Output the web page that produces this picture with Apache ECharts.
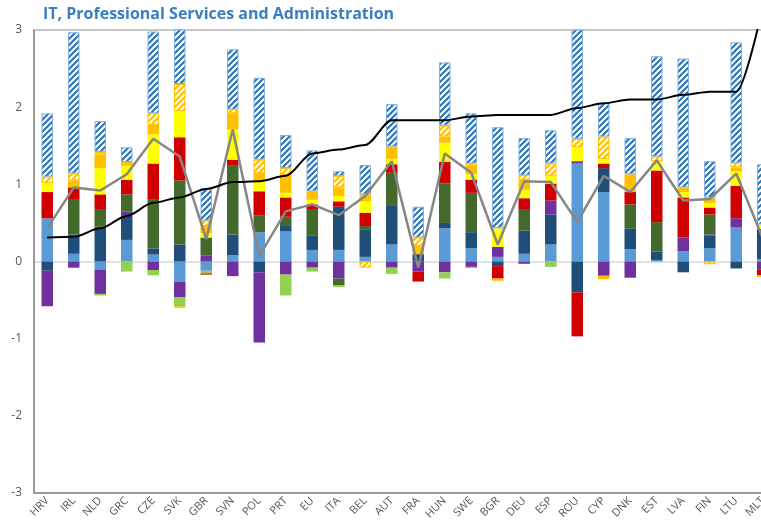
<!DOCTYPE html>
<html><head><meta charset="utf-8">
<script src="https://cdn.jsdelivr.net/npm/echarts@6/dist/echarts.min.js"></script>
<style>html,body{margin:0;padding:0;background:#fff;overflow:hidden}#c{width:761px;height:531px}</style>
</head><body><div id="c"></div>
<script>
const categories = ['HRV','IRL','NLD','GRC','CZE','SVK','GBR','SVN','POL','PRT','EU','ITA','BEL','AUT','FRA','HUN','SWE','BGR','DEU','ESP','ROU','CYP','DNK','EST','LVA','FIN','LTU','MLT'];
const yTicks = [-3,-2,-1,0,1,2,3];
// segment values (stacked), per category
const lightBlue   = [0.56,0.10,-0.11,0.28,0.09,-0.26,-0.12,0.08,0.38,0.39,0.15,0.15,0.06,0.22,0,0.43,0.17,0.06,0.10,0.22,1.27,0.90,0.16,0.02,0.13,0.17,0.44,0.03];
const darkBlue    = [-0.12,0.25,0.45,0.32,0.08,0.22,0,0.27,-0.14,0.07,0.19,0.56,0.35,0.51,0.095,0.07,0.21,-0.06,0.30,0.39,-0.40,0.31,0.27,0.11,-0.14,0.17,-0.09,0.39];
const purple      = [-0.46,-0.08,-0.31,0.05,-0.11,-0.20,0.08,-0.19,-0.91,-0.17,-0.08,-0.22,0,-0.08,-0.13,-0.14,-0.07,0.13,-0.03,0.18,0.03,-0.185,-0.21,0,0.18,0.01,0.12,-0.10];
const darkGreen   = [0,0.46,0.23,0.22,0.63,0.83,0.23,0.90,0.22,0.12,0.34,-0.09,0.05,0.42,0,0.51,0.51,0,0.28,0,0,0,0.31,0.38,0,0.26,0,0];
const lightGreen  = [0,0,-0.02,-0.13,-0.07,-0.12,-0.035,0,0,-0.27,-0.05,-0.02,0,-0.08,0,-0.08,-0.015,0,0,-0.07,0,0,0,0,0,0,0,0];
const red         = [0.34,0.15,0.19,0.19,0.47,0.56,-0.015,0.07,0.31,0.25,0.06,0.07,0.17,0.11,-0.13,0.28,0.17,-0.16,0.14,0.22,-0.57,0.06,0.16,0.67,0.52,0.09,0.42,-0.08];
const yellow      = [0.12,0,0.34,0.18,0.38,0.34,0.06,0.39,0.13,0.06,0.06,0.07,0.15,0.07,0,0.25,0.07,0.24,0.11,0.10,0.18,0.06,0,0.12,0.07,0.06,0.19,0.06];
const orange      = [0,0.09,0.18,0.05,0.12,-0.02,0.09,0.21,0.11,0.23,0.11,0.11,0.09,0.16,0.105,0.08,0.11,-0.03,0.13,0,0,-0.045,0.23,0,0.06,0.07,0.05,-0.02];
const orangeHatch = [0.08,0.09,0.03,0,0.15,0.35,0.07,0.05,0.17,0.09,0,0.15,-0.08,0,0.11,0.14,0.03,0,0.06,0.16,0.11,0.29,0,0.06,0,-0.035,0.06,0];
const blueHatch   = [0.82,1.83,0.40,0.19,1.06,0.80,0.42,0.78,1.06,0.43,0.53,0.06,0.38,0.55,0.40,0.82,0.65,1.31,0.48,0.43,1.50,0.43,0.47,1.30,1.67,0.47,1.56,0.78];
// lines
const grayLine  = [0.43,0.96,0.92,1.13,1.59,1.36,0.29,1.71,0.07,0.65,0.74,0.60,0.85,1.30,-0.08,1.40,1.15,0.22,1.04,1.03,0.51,1.11,0.90,1.31,0.79,0.81,1.14,0.30];
const blackLine = [0.31,0.32,0.43,0.59,0.76,0.83,0.94,1.03,1.04,1.11,1.40,1.45,1.51,1.83,1.83,1.83,1.88,1.90,1.90,1.90,1.99,2.05,2.10,2.10,2.16,2.20,2.20,3.30];

function hatch(color){
  const s = 6;
  const c = document.createElement('canvas'); c.width = s; c.height = s;
  const g = c.getContext('2d');
  g.fillStyle = '#ffffff'; g.fillRect(0,0,s,s);
  g.strokeStyle = color; g.lineWidth = 2.2;
  g.beginPath();
  g.moveTo(-1,s+1); g.lineTo(s+1,-1);
  g.moveTo(-2,2); g.lineTo(2,-2);
  g.moveTo(s-2,s+2); g.lineTo(s+2,s-2);
  g.stroke();
  return {image:c, repeat:'repeat'};
}
const segs = [
  [lightBlue,'#5B9BD5',null],
  [darkBlue,'#1F4E79',null],
  [purple,'#7030A0',null],
  [darkGreen,'#44692C',null],
  [lightGreen,'#92D050',null],
  [red,'#D00000',null],
  [yellow,'#FFFF00',null],
  [orange,'#FFC000',null],
  [orangeHatch,hatch('#FFC000'),'#FFC000'],
  [blueHatch,hatch('#2E75B6'),'#7FB0E0']
];
const series = segs.map(([arr,col,border]) => ({
  type:'bar', stack:'s', barWidth:11.5, silent:true,
  data: arr.map(v => v === 0 ? null : v),
  itemStyle: border ? {color:col, borderColor:border, borderWidth:1} : {color:col}
}));
series.push({type:'line', data:grayLine, symbol:'none', lineStyle:{color:'#868686', width:2.5}, z:5, silent:true});
series.push({type:'line', data:blackLine, symbol:'none', smooth:0.3, smoothMonotone:'x', lineStyle:{color:'#000000', width:2}, z:6, silent:true});

const chart = echarts.init(document.getElementById('c'), null, {renderer:'canvas'});
chart.setOption({
  animation:false,
  title:{text:'IT, Professional Services and Administration', left:38, top:1,
    textStyle:{color:'#3A7EC2', fontSize:16, fontWeight:'bold', fontFamily:'Open Sans'}},
  grid:{left:34, width:742, top:30, bottom:38, show:true, borderColor:'#8c8c8c', borderWidth:1,
    containLabel:false, outerBoundsMode:'none'},
  xAxis:{type:'category', data:categories, boundaryGap:true,
    axisLine:{onZero:false, lineStyle:{color:'#8c8c8c', width:1.5}}, axisTick:{show:false},
    axisLabel:{interval:0, rotate:45, color:'#595959', fontSize:11, fontFamily:'Open Sans', margin:6}},
  yAxis:{type:'value', min:yTicks[0], max:yTicks[yTicks.length-1], interval:1,
    axisLine:{show:true, lineStyle:{color:'#8c8c8c', width:1.5}}, axisTick:{show:false},
    axisLabel:{color:'#595959', fontSize:12, fontFamily:'Open Sans', margin:12},
    splitLine:{show:true, lineStyle:{color:['transparent','transparent','transparent','#d9d9d9','transparent','transparent','transparent'], width:1.5}}},
  series: series
});
</script></body></html>
